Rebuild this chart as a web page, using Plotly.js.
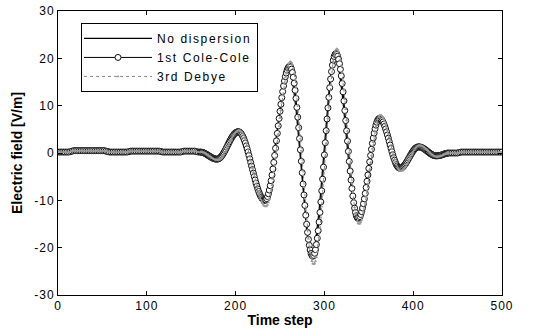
<!DOCTYPE html>
<html>
<head>
<meta charset="utf-8">
<script src="https://cdn.plot.ly/plotly-3.0.1.min.js"></script>
<style>
html,body{margin:0;padding:0;background:#fff;}
#chart{width:546px;height:331px;}
.xtick text,.ytick text{letter-spacing:1px;}
.legendtext{letter-spacing:1.6px;}
</style>
</head>
<body>
<div id="chart"></div>
<script>
// Legend names
var seriesNames = ["No dispersion", "1st Cole-Cole", "3rd Debye"];

// Flat baseline before the pulse (time steps 0..158, every 2 steps)
var baseLeft = [
  0.2,0.2,0.2,0.2,0.2,0.2,0.2,0.3,0.4,0.5,
  0.5,0.5,0.5,0.5,0.5,0.5,0.5,0.5,0.5,0.5,
  0.5,0.5,0.5,0.5,0.5,0.5,0.5,0.4,0.3,0.2,
  0.2,0.2,0.2,0.2,0.2,0.2,0.2,0.2,0.2,0.2,
  0.3,0.4,0.4,0.4,0.4,0.4,0.4,0.4,0.4,0.4,
  0.4,0.4,0.4,0.4,0.4,0.4,0.4,0.4,0.3,0.2,
  0.2,0.2,0.2,0.2,0.2,0.2,0.2,0.2,0.2,0.2,
  0.3,0.4,0.4,0.4,0.4,0.4,0.4,0.4,0.3,0.2
];
// Flat baseline after the pulse (time steps 442..500, every 2 steps)
var baseRight = [
  0,0,0,0,0,0.1,0.2,0.2,0.2,0.2,
  0.2,0.2,0.2,0.2,0.2,0.2,0.2,0.2,0.2,0.2,
  0.2,0.2,0.2,0.2,0.2,0.2,0.2,0.2,0.2,0.2
];

// No dispersion, time steps 160..440 every 2 steps
var noDispersion = [
  0.18,0.11,-0.04,-0.24,-0.48,-0.71,-0.93,-1.1,-1.22,-1.26,
  -1.16,-0.88,-0.44,0.15,0.82,1.55,2.28,2.96,3.54,3.99,
  4.27,4.37,4.21,3.75,3.03,2.04,0.85,-0.49,-1.93,-3.4,
  -4.84,-6.19,-7.37,-8.36,-9.09,-9.54,-9.7,-9.36,-8.34,-6.7,
  -4.53,-1.93,0.97,4.03,7.08,9.98,12.58,14.75,16.39,17.41,
  17.75,17.19,15.52,12.86,9.35,5.2,0.65,-4.04,-8.59,-12.75,
  -16.26,-18.92,-20.58,-21.15,-20.54,-18.77,-15.93,-12.18,-7.75,-2.89,
  2.11,6.97,11.41,15.15,17.99,19.77,20.37,19.84,18.28,15.79,
  12.53,8.71,4.55,0.33,-3.7,-7.27,-10.17,-12.2,-13.25,-13.3,
  -12.61,-11.27,-9.39,-7.07,-4.49,-1.81,0.77,3.07,4.97,6.31,
  6.98,7.03,6.66,5.94,4.93,3.7,2.34,0.95,-0.36,-1.48,
  -2.37,-2.91,-3.1,-3.01,-2.73,-2.28,-1.72,-1.09,-0.44,0.17,
  0.68,1.05,1.23,1.25,1.16,0.99,0.76,0.49,0.19,-0.08,
  -0.31,-0.49,-0.57,-0.58,-0.54,-0.46,-0.34,-0.2,-0.09,-0.02,
  0
];

// 1st Cole-Cole, time steps 160..440 every step
var coleCole = [
  0.2,0.19,0.16,0.11,0.04,-0.04,-0.14,-0.25,-0.37,-0.49,
  -0.61,-0.73,-0.85,-0.96,-1.06,-1.14,-1.21,-1.26,-1.29,-1.3,
  -1.27,-1.2,-1.08,-0.91,-0.7,-0.45,-0.17,0.15,0.49,0.85,
  1.22,1.6,1.98,2.35,2.71,3.05,3.37,3.65,3.9,4.11,
  4.28,4.4,4.47,4.5,4.46,4.34,4.15,3.87,3.53,3.12,
  2.64,2.1,1.51,0.88,0.2,-0.51,-1.24,-1.99,-2.75,-3.51,
  -4.26,-4.99,-5.7,-6.38,-7.0,-7.6,-8.14,-8.62,-9.03,-9.37,
  -9.65,-9.84,-9.96,-10,-9.91,-9.65,-9.21,-8.6,-7.83,-6.91,
  -5.86,-4.67,-3.38,-1.99,-0.52,1.0,2.57,4.15,5.74,7.3,
  8.82,10.29,11.68,12.97,14.16,15.21,16.13,16.9,17.51,17.95,
  18.21,18.3,18.15,17.72,17.0,16.0,14.75,13.26,11.55,9.64,
  7.57,5.36,3.05,0.67,-1.75,-4.17,-6.55,-8.86,-11.07,-13.14,
  -15.05,-16.76,-18.25,-19.5,-20.5,-21.22,-21.65,-21.8,-21.64,-21.18,
  -20.41,-19.35,-18.01,-16.42,-14.59,-12.56,-10.34,-7.99,-5.52,-2.98,
  -0.4,2.18,4.72,7.19,9.54,11.76,13.79,15.62,17.21,18.55,
  19.61,20.38,20.84,21.0,20.86,20.45,19.78,18.85,17.68,16.28,
  14.69,12.92,11.01,8.98,6.86,4.69,2.51,0.34,-1.78,-3.81,
  -5.72,-7.49,-9.09,-10.48,-11.65,-12.58,-13.25,-13.66,-13.8,-13.71,
  -13.44,-13.0,-12.39,-11.62,-10.71,-9.68,-8.53,-7.29,-5.98,-4.63,
  -3.25,-1.87,-0.52,0.79,2.03,3.17,4.21,5.12,5.89,6.5,
  6.94,7.2,7.3,7.25,7.11,6.87,6.54,6.12,5.63,5.08,
  4.47,3.81,3.12,2.41,1.69,0.98,0.29,-0.37,-0.98,-1.53,
  -2.02,-2.44,-2.77,-3.0,-3.15,-3.2,-3.17,-3.1,-2.98,-2.81,
  -2.6,-2.35,-2.08,-1.77,-1.45,-1.12,-0.78,-0.45,-0.13,0.18,
  0.45,0.7,0.91,1.08,1.2,1.27,1.3,1.29,1.25,1.2,
  1.12,1.02,0.91,0.78,0.64,0.5,0.35,0.2,0.06,-0.08,
  -0.21,-0.32,-0.42,-0.5,-0.55,-0.59,-0.6,-0.6,-0.58,-0.56,
  -0.52,-0.47,-0.41,-0.35,-0.28,-0.21,-0.15,-0.09,-0.05,-0.02,
  0
];

// 3rd Debye, time steps 160..440 every step
var debye = [
  0.2,0.2,0.19,0.15,0.1,0.02,-0.07,-0.19,-0.31,-0.44,
  -0.58,-0.72,-0.86,-0.99,-1.11,-1.23,-1.32,-1.4,-1.45,-1.49,
  -1.5,-1.47,-1.39,-1.26,-1.08,-0.85,-0.58,-0.27,0.08,0.44,
  0.83,1.24,1.65,2.06,2.47,2.86,3.23,3.58,3.88,4.14,
  4.38,4.56,4.69,4.77,4.8,4.76,4.62,4.41,4.1,3.72,
  3.26,2.73,2.14,1.48,0.78,0.02,-0.76,-1.58,-2.41,-3.25,
  -4.09,-4.92,-5.74,-6.52,-7.28,-7.98,-8.64,-9.23,-9.76,-10.22,
  -10.6,-10.91,-11.12,-11.26,-11.3,-11.2,-10.92,-10.44,-9.79,-8.95,
  -7.96,-6.82,-5.54,-4.14,-2.64,-1.05,0.6,2.29,4.0,5.71,
  7.4,9.05,10.64,12.14,13.54,14.82,15.96,16.95,17.79,18.44,
  18.92,19.2,19.3,19.14,18.68,17.91,16.85,15.51,13.92,12.09,
  10.06,7.85,5.49,3.02,0.48,-2.1,-4.68,-7.22,-9.69,-12.05,
  -14.26,-16.29,-18.12,-19.71,-21.05,-22.11,-22.88,-23.34,-23.5,-23.33,
  -22.84,-22.02,-20.9,-19.47,-17.78,-15.84,-13.67,-11.32,-8.82,-6.19,
  -3.49,-0.75,1.99,4.69,7.32,9.82,12.17,14.34,16.28,17.97,
  19.4,20.52,21.33,21.83,22.0,21.85,21.42,20.7,19.71,18.47,
  16.99,15.29,13.41,11.38,9.22,6.97,4.66,2.34,0.03,-2.22,
  -4.38,-6.41,-8.29,-9.99,-11.47,-12.71,-13.7,-14.42,-14.85,-15.0,
  -14.9,-14.61,-14.13,-13.46,-12.62,-11.63,-10.5,-9.25,-7.9,-6.48,
  -5.01,-3.5,-1.99,-0.52,0.9,2.25,3.5,4.63,5.62,6.46,
  7.13,7.61,7.9,8.0,7.95,7.78,7.51,7.14,6.68,6.13,
  5.5,4.81,4.08,3.3,2.5,1.7,0.9,0.12,-0.61,-1.3,
  -1.93,-2.48,-2.94,-3.31,-3.58,-3.75,-3.8,-3.77,-3.68,-3.53,
  -3.33,-3.08,-2.78,-2.45,-2.09,-1.7,-1.3,-0.9,-0.5,-0.11,
  0.25,0.58,0.88,1.13,1.33,1.48,1.57,1.6,1.59,1.54,
  1.47,1.37,1.25,1.11,0.94,0.77,0.59,0.4,0.21,0.03,
  -0.14,-0.31,-0.45,-0.57,-0.67,-0.74,-0.79,-0.8,-0.79,-0.76,
  -0.71,-0.64,-0.56,-0.47,-0.37,-0.28,-0.19,-0.11,-0.05,-0.01,
  0
];

var xTickVals = [0, 100, 200, 300, 400, 500];
var yTickVals = [-30, -20, -10, 0, 10, 20, 30];

// time-step grids
function steps(start, stride, n) { var a = []; for (var i = 0; i < n; i++) a.push(start + stride * i); return a; }
var tLeft = steps(0, 2, baseLeft.length);
var tRight = steps(442, 2, baseRight.length);
function withBase(tMid, yMid) {
  return { x: tLeft.concat(tMid, tRight), y: baseLeft.concat(yMid, baseRight) };
}
var nd = withBase(steps(160, 2, noDispersion.length), noDispersion);
var cc = withBase(steps(160, 1, coleCole.length), coleCole);
var db = withBase(steps(160, 1, debye.length), debye);

var traces = [
  { x: nd.x, y: nd.y, name: seriesNames[0], type: 'scatter', mode: 'lines',
    line: { color: '#000', width: 1.2 } },
  { x: cc.x, y: cc.y, name: seriesNames[1], type: 'scatter', mode: 'lines+markers',
    line: { color: '#000', width: 1 },
    marker: { symbol: 'circle', size: 6, color: '#fff', line: { color: '#111', width: 1 } } },
  { x: db.x, y: db.y, name: seriesNames[2], type: 'scatter', mode: 'lines+markers',
    line: { color: '#8a8a8a', width: 1, dash: 'dot' },
    marker: { symbol: 'triangle-up', size: 3, color: '#9a9a9a' } }
];

var tickFont = { family: 'Liberation Sans, Arial, sans-serif', size: 12, color: '#000' };
var titleFont = { family: 'Liberation Sans Narrow, Arial Narrow, Liberation Sans, Arial, sans-serif', size: 14, color: '#000' };
var layout = {
  width: 546, height: 331,
  margin: { l: 58, r: 44, t: 11, b: 36 },
  paper_bgcolor: '#fff', plot_bgcolor: '#fff',
  showlegend: true,
  legend: {
    x: 0.0518, y: 0.958, xanchor: 'left', yanchor: 'top',
    bgcolor: '#fff', bordercolor: '#000', borderwidth: 1,
    itemwidth: 65,
    font: { family: 'Liberation Sans, Arial, sans-serif', size: 12, color: '#000' },
    tracegroupgap: 0
  },
  xaxis: {
    range: [0, 500], tickvals: xTickVals, ticktext: xTickVals.map(String),
    ticks: 'inside', ticklen: 4, tickcolor: '#000', tickwidth: 1,
    showline: true, linecolor: '#000', linewidth: 1, mirror: 'ticks',
    showgrid: false, zeroline: false, tickfont: tickFont,
    title: { text: '<b>Time step</b>', font: titleFont, standoff: 2 }
  },
  yaxis: {
    range: [-30, 30], tickvals: yTickVals, ticktext: yTickVals.map(String),
    ticks: 'inside', ticklen: 4, tickcolor: '#000', tickwidth: 1,
    showline: true, linecolor: '#000', linewidth: 1, mirror: 'ticks',
    showgrid: false, zeroline: false, tickfont: tickFont,
    title: { text: '<b>Electric field [V/m]</b>', font: titleFont, standoff: 8 }
  }
};

Plotly.newPlot('chart', traces, layout, { displayModeBar: false, staticPlot: true }).then(function () {
  // stretch legend sample lines across the wider item slot, markers centred on them
  var items = document.querySelectorAll('.legend .traces');
  items.forEach(function (g) {
    var txt = g.querySelector('.legendtext');
    var tx = txt ? parseFloat(txt.getAttribute('x')) : 60;
    var lineLen = tx - 7;
    g.querySelectorAll('.legendlines path').forEach(function (p) {
      p.setAttribute('d', 'M2,0h' + lineLen);
    });
    g.querySelectorAll('.legendpoints path').forEach(function (p) {
      p.setAttribute('transform', 'translate(' + (2 + lineLen / 2) + ',0)');
    });
  });
});
</script>
</body>
</html>
